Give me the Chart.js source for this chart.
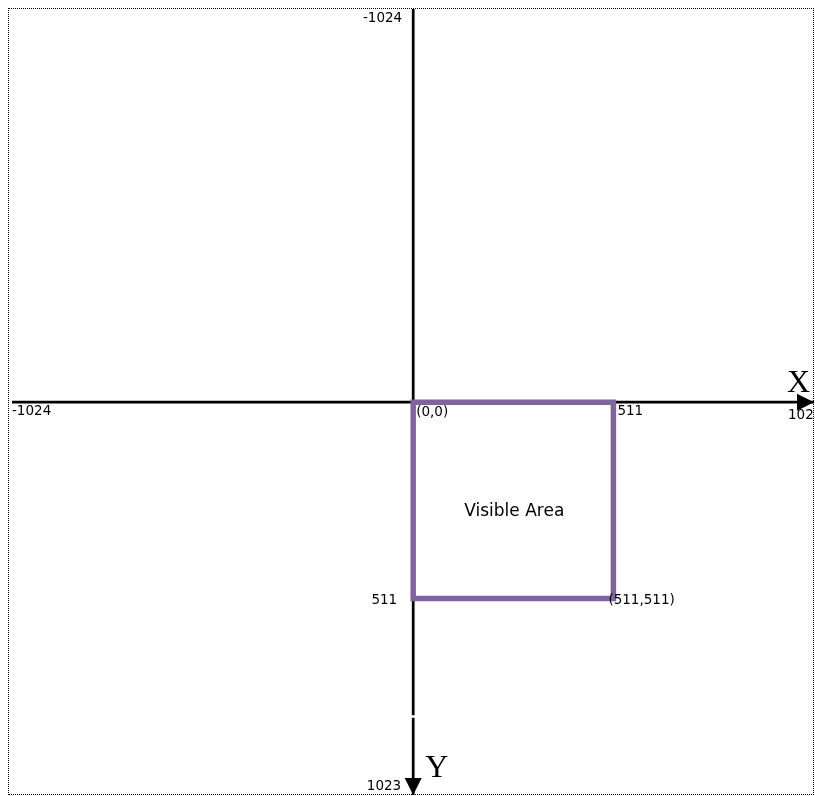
<!DOCTYPE html>
<html>
<head>
<meta charset="utf-8">
<script src="https://cdn.jsdelivr.net/npm/chart.js@4"></script>
<style>
  html, body { margin: 0; padding: 0; overflow: hidden; background: #fff; width: 815px; height: 796px; }
  #frame { position: absolute; left: 8px; top: 8px; width: 804px; height: 785px; border: 1px dotted #000; }
  #diagram { position: absolute; left: 0; top: 0; }
</style>
</head>
<body>
<div id="frame"></div>
<canvas id="diagram" width="830" height="796"></canvas>
<script>
// coordinate space of the diagram
const axisMin = -1024;
const axisMax = 1023;
const xTicks = [-1024, 511, 1023];
const yTicks = [-1024, 511, 1023];
const yAxisBreak = [815, 822];          // small gap in the y axis line
const boxCorners = [[0, 0], [511, 0], [511, 511], [0, 511], [0, 0]];
const cornerLabels = ['(0,0)', '(511,511)'];
const boxLabel = 'Visible Area';
const axisNames = ['X', 'Y'];

const labelFont = '13.5px "DejaVu Sans", Verdana, sans-serif';

const arrowHeads = {
  id: 'arrowHeads',
  afterDatasetsDraw(chart) {
    const ctx = chart.ctx;
    chart.data.datasets.forEach((ds, i) => {
      if (!ds.arrowHead) return;
      const pts = chart.getDatasetMeta(i).data;
      const a = pts[pts.length - 2], b = pts[pts.length - 1];
      const ang = Math.atan2(b.y - a.y, b.x - a.x);
      ctx.save();
      ctx.translate(b.x, b.y);
      ctx.rotate(ang);
      ctx.beginPath();
      ctx.moveTo(0, 0);
      ctx.lineTo(-17, -8.5);
      ctx.lineTo(-17, 8.5);
      ctx.closePath();
      ctx.fillStyle = ds.borderColor;
      ctx.fill();
      ctx.restore();
    });
  }
};

const diagramText = {
  id: 'diagramText',
  afterDraw(chart) {
    const ctx = chart.ctx;
    const sx = chart.scales.x, sy = chart.scales.y;
    const ox = sx.getPixelForValue(0), oy = sy.getPixelForValue(0);
    const put = (txt, x, y, align, font) => {
      ctx.font = font || labelFont;
      ctx.textAlign = align;
      ctx.textBaseline = 'middle';
      ctx.fillText(txt, x, y);
    };
    ctx.save();
    ctx.fillStyle = '#000';

    // x axis ticks (below the axis line)
    put(String(xTicks[0]), sx.getPixelForValue(xTicks[0]), oy + 9, 'left');
    put(String(xTicks[1]), sx.getPixelForValue(xTicks[1]) + 4, oy + 9, 'left');
    put(String(xTicks[2]), sx.getPixelForValue(xTicks[2]) - 26, oy + 13, 'left');

    // y axis ticks (left of the axis line)
    put(String(yTicks[0]), ox - 11, sy.getPixelForValue(yTicks[0]) + 9, 'right');
    put(String(yTicks[1]), ox - 16, sy.getPixelForValue(yTicks[1]) + 2, 'right');
    put(String(yTicks[2]), ox - 12, sy.getPixelForValue(yTicks[2]) - 9, 'right');

    // corners of the visible area
    put(cornerLabels[0], sx.getPixelForValue(boxCorners[0][0]) + 3, sy.getPixelForValue(boxCorners[0][1]) + 10, 'left');
    put(cornerLabels[1], sx.getPixelForValue(boxCorners[2][0]) - 5, sy.getPixelForValue(boxCorners[2][1]) + 2, 'left');

    // box caption
    const cx = (sx.getPixelForValue(boxCorners[0][0]) + sx.getPixelForValue(boxCorners[2][0])) / 2;
    const cy = (sy.getPixelForValue(boxCorners[0][1]) + sy.getPixelForValue(boxCorners[2][1])) / 2;
    put(boxLabel, cx + 1, cy + 11, 'center', '17px "DejaVu Sans", Verdana, sans-serif');

    // axis names
    const serif = '32px "Liberation Serif", "Times New Roman", serif';
    ctx.font = serif;
    ctx.textBaseline = 'alphabetic';
    ctx.textAlign = 'right';
    ctx.fillText(axisNames[0], sx.getPixelForValue(axisMax) - 4, oy - 10);
    ctx.textAlign = 'left';
    ctx.fillText(axisNames[1], ox + 12, sy.getPixelForValue(axisMax) - 18);
    ctx.restore();
  }
};

new Chart(document.getElementById('diagram'), {
  type: 'scatter',
  data: {
    datasets: [
      {
        label: 'visible area',
        data: boxCorners.map(([x, y]) => ({ x, y })),
        showLine: true,
        borderColor: '#8064A2',
        borderWidth: 5.5,
        borderCapStyle: 'square',
        borderJoinStyle: 'miter',
        pointRadius: 0,
        clip: false,
        order: 0
      },
      {
        label: 'x axis',
        data: [{ x: axisMin, y: 0 }, { x: axisMax, y: 0 }],
        showLine: true,
        borderColor: '#000',
        borderWidth: 2.75,
        pointRadius: 0,
        clip: false,
        arrowHead: true,
        order: 1
      },
      {
        label: 'y axis',
        data: [
          { x: 0, y: axisMin },
          { x: 0, y: yAxisBreak[0] },
          { x: 0, y: null },
          { x: 0, y: yAxisBreak[1] },
          { x: 0, y: axisMax }
        ],
        showLine: true,
        spanGaps: false,
        borderColor: '#000',
        borderWidth: 2.75,
        pointRadius: 0,
        clip: false,
        arrowHead: true,
        order: 1
      }
    ]
  },
  options: {
    responsive: false,
    animation: false,
    events: [],
    layout: { padding: { left: 12, right: 16, top: 9, bottom: 1 } },
    scales: {
      x: { type: 'linear', min: axisMin, max: axisMax, display: false },
      y: { type: 'linear', min: axisMin, max: axisMax, reverse: true, display: false }
    },
    plugins: { legend: { display: false }, tooltip: { enabled: false } }
  },
  plugins: [arrowHeads, diagramText]
});
</script>
</body>
</html>
